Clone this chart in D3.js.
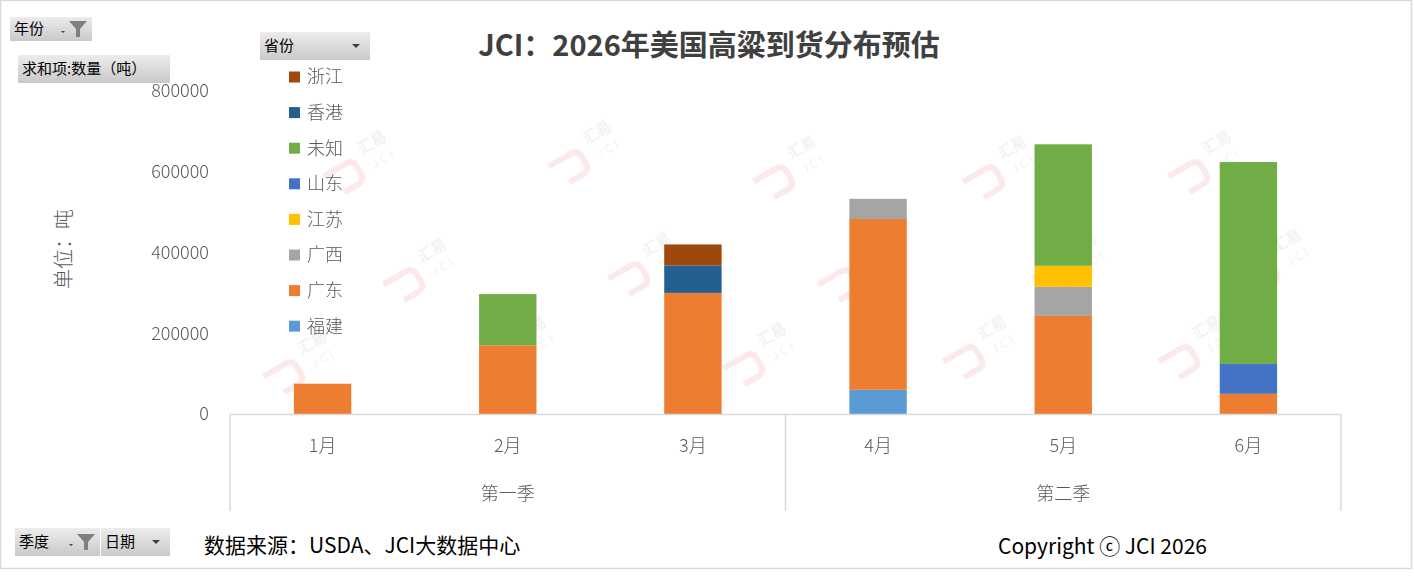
<!DOCTYPE html>
<html>
<head>
<meta charset="utf-8">
<script src="https://cdn.jsdelivr.net/npm/d3@7"></script>
<style>
  body { margin: 0; background: #fff; }
  svg text { font-family: "Noto Sans CJK SC", "Noto Sans", sans-serif; }
</style>
</head>
<body>
<svg id="chart" width="1414" height="581"></svg>
<script>
// data
const months = ['1月', '2月', '3月', '4月', '5月', '6月']
const quarters = ['第一季', '第一季', '第一季', '第二季', '第二季', '第二季']
const provinces = ['福建', '广东', '广西', '江苏', '山东', '未知', '香港', '浙江']
const colors = ['#5B9BD5', '#ED7D31', '#A5A5A5', '#FFC000', '#4472C4', '#70AD47', '#255E91', '#9E480E']
const fujian    = [0, 0, 0, 60000, 0, 0]
const guangdong = [75000, 170000, 300000, 423000, 243000, 50000]
const guangxi   = [0, 0, 0, 50000, 72000, 0]
const jiangsu   = [0, 0, 0, 0, 52000, 0]
const shandong  = [0, 0, 0, 0, 0, 74000]
const weizhi    = [0, 127000, 0, 0, 301000, 500000]
const xianggang = [0, 0, 68000, 0, 0, 0]
const zhejiang  = [0, 0, 52000, 0, 0, 0]
const yTicks = [0, 200000, 400000, 600000, 800000]

const series = [fujian, guangdong, guangxi, jiangsu, shandong, weizhi, xianggang, zhejiang]
const table = months.map((m, i) => {
    let row = { month: m }
    provinces.forEach((p, j) => { row[p] = series[j][i] })
    return row
})

const svg = d3.select('#chart')
const plotLeft = 230, plotRight = 1341, plotTop = 91, plotBottom = 414

let x = d3.scaleBand().domain(months).range([plotLeft, plotRight]).paddingInner(0).paddingOuter(0)
let y = d3.scaleLinear().domain([0, 800000]).range([plotBottom, plotTop])
let color = d3.scaleOrdinal().domain(provinces).range(colors)

// border
svg.append('rect')
    .attr('x', 0.5).attr('y', 0.5).attr('width', 1411).attr('height', 568)
    .attr('fill', '#fff').attr('stroke', '#d9d9d9').attr('stroke-width', 1.5)

// button gradient
let defs = svg.append('defs')
let grad = defs.append('linearGradient').attr('id', 'btn').attr('x1', 0).attr('y1', 0).attr('x2', 0).attr('y2', 1)
grad.append('stop').attr('offset', '0%').attr('stop-color', '#ececec')
grad.append('stop').attr('offset', '100%').attr('stop-color', '#c9c9c9')

// watermarks
const marks = [[360, 160], [585, 150], [790, 165], [1000, 165], [1205, 160],
    [420, 268], [645, 262], [855, 268], [1070, 262], [1275, 258],
    [300, 360], [520, 345], [760, 352], [980, 345], [1195, 345]]
let wm = svg.append('g').attr('class', 'watermark').attr('opacity', 0.1)
marks.forEach(m => {
    let g = wm.append('g').attr('transform', 'translate(' + m[0] + ',' + m[1] + ') rotate(-30)')
    g.append('path')
        .attr('d', 'M-40,-4 L-14,-4 Q-6,-4 -6,4 L-6,12 Q-6,20 -14,20 L-30,20')
        .attr('fill', 'none').attr('stroke', '#e03030').attr('stroke-width', 6)
    g.append('text').attr('x', 4).attr('y', -4).attr('font-size', 15).attr('fill', '#777')
        .attr('font-weight', 'bold').text('汇易')
    g.append('text').attr('x', 8).attr('y', 15).attr('font-size', 12).attr('fill', '#777')
        .attr('letter-spacing', 3).text('JCI')
})

// bars
let stack = d3.stack().keys(provinces)(table)
svg.append('g').attr('class', 'bars')
    .selectAll('g')
    .data(stack)
    .enter().append('g')
    .attr('fill', d => color(d.key))
    .selectAll('rect')
    .data(d => d)
    .enter().append('rect')
    .attr('x', d => x(d.data.month) + x.bandwidth() * 0.345)
    .attr('width', x.bandwidth() * 0.31)
    .attr('y', d => y(d[1]))
    .attr('height', d => y(d[0]) - y(d[1]))

// y axis labels
svg.append('g').attr('class', 'yticks')
    .selectAll('text')
    .data(yTicks)
    .enter().append('text')
    .attr('x', 209)
    .attr('y', d => y(d))
    .attr('dy', '0.35em')
    .attr('text-anchor', 'end')
    .attr('font-size', 18)
    .attr('font-weight', 300)
    .attr('fill', '#595959')
    .text(d => d)

svg.append('text')
    .attr('transform', 'translate(71,249) rotate(-90)')
    .attr('text-anchor', 'middle')
    .attr('font-size', 20)
    .attr('font-weight', 300)
    .attr('fill', '#595959')
    .text('单位：吨')

// x axis with two levels
let axisG = svg.append('g').attr('class', 'xaxis').attr('stroke', '#d9d9d9').attr('stroke-width', 1.5)
axisG.append('line').attr('x1', plotLeft).attr('x2', plotRight).attr('y1', plotBottom + 0.5).attr('y2', plotBottom + 0.5)
let qNames = Array.from(new Set(quarters))
let qBounds = qNames.map(q => {
    let ms = months.filter((m, i) => quarters[i] == q)
    return { q: q, x0: x(ms[0]), x1: x(ms[ms.length - 1]) + x.bandwidth() }
})
let edges = [plotLeft].concat(qBounds.map(b => b.x1))
axisG.selectAll('.sep')
    .data(edges)
    .enter().append('line')
    .attr('class', 'sep')
    .attr('x1', d => d).attr('x2', d => d)
    .attr('y1', plotBottom).attr('y2', 511)

svg.append('g').selectAll('text')
    .data(months)
    .enter().append('text')
    .attr('x', d => x(d) + x.bandwidth() / 2)
    .attr('y', 452)
    .attr('text-anchor', 'middle')
    .attr('font-size', 18)
    .attr('font-weight', 300)
    .attr('fill', '#595959')
    .text(d => d)

svg.append('g').selectAll('text')
    .data(qBounds)
    .enter().append('text')
    .attr('x', d => (d.x0 + d.x1) / 2)
    .attr('y', 500)
    .attr('text-anchor', 'middle')
    .attr('font-size', 18)
    .attr('font-weight', 300)
    .attr('fill', '#595959')
    .text(d => d.q)

// legend
let legend = svg.append('g').attr('class', 'legend')
    .selectAll('g')
    .data(provinces.slice().reverse())
    .enter().append('g')
    .attr('transform', (d, i) => 'translate(289,' + (77 + i * 35.6) + ')')
legend.append('rect').attr('x', 0).attr('y', -5.5).attr('width', 11).attr('height', 11).attr('fill', d => color(d))
legend.append('text').attr('x', 18).attr('dy', '0.36em').attr('font-size', 18)
    .attr('font-weight', 300).attr('fill', '#595959').text(d => d)

// title
svg.append('text')
    .attr('x', 709).attr('y', 56)
    .attr('text-anchor', 'middle')
    .attr('font-size', 29)
    .attr('font-weight', 'bold')
    .attr('fill', '#404040')
    .text('JCI：2026年美国高粱到货分布预估')

// pivot buttons
function button(x0, y0, w, h, label, icon) {
    let g = svg.append('g').attr('transform', 'translate(' + x0 + ',' + y0 + ')')
    g.append('rect').attr('width', w).attr('height', h).attr('fill', 'url(#btn)')
    g.append('text').attr('x', 4).attr('y', h / 2).attr('dy', '0.36em')
        .attr('font-size', 15).attr('fill', '#000').text(label)
    if (icon == 'filter') {
        g.append('path').attr('d', 'M' + (w - 31) + ',' + (h / 2 + 2) + ' l4,0 l-2,2 z').attr('fill', '#404040')
        g.append('path')
            .attr('d', 'M' + (w - 23) + ',' + (h / 2 - 8) + ' l18,0 l-7,8 l0,8 l-4,0 l0,-8 z')
            .attr('fill', '#7f7f7f')
    } else if (icon == 'arrow') {
        g.append('path').attr('d', 'M' + (w - 18) + ',' + (h / 2 - 2) + ' l8,0 l-4,4 z').attr('fill', '#404040')
    }
}
button(10, 17, 82, 24, '年份', 'filter')
button(18, 55, 152, 28, '求和项:数量（吨）', null)
button(260, 32, 110, 28, '省份', 'arrow')
button(15, 528, 85, 28, '季度', 'filter')
button(101, 528, 69, 28, '日期', 'arrow')

// footer
svg.append('text')
    .attr('x', 204).attr('y', 545).attr('dy', '0.36em')
    .attr('font-size', 21).attr('fill', '#000')
    .text('数据来源：USDA、JCI大数据中心')

svg.append('text')
    .attr('x', 998).attr('y', 546).attr('dy', '0.36em')
    .attr('font-size', 21).attr('fill', '#000')
    .text('Copyright ⓒ JCI 2026')
</script>
</body>
</html>
